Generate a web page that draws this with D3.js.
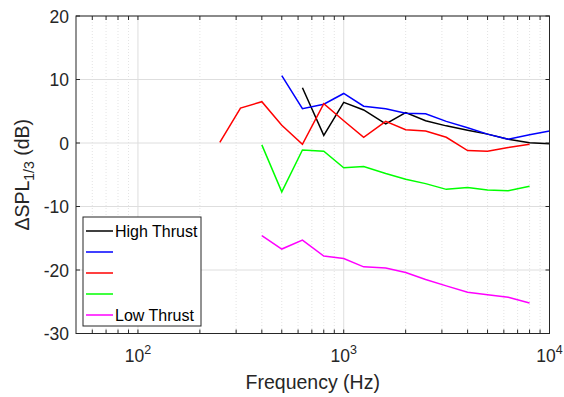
<!DOCTYPE html>
<html lang="en">
<head>
    <meta charset="UTF-8">
    <script src="https://d3js.org/d3.v7.min.js"></script>
    <title>Delta SPL 1/3 octave</title>
    <style>
        body { margin: 0; background: #fff; }
        svg text { font-family: "Liberation Sans", Arial, Helvetica, sans-serif; fill: #262626; }
    </style>
</head>
<body>
    <div id="graph-div"></div>
    <script>
        // 1/3 octave band centre frequencies (Hz)
        const freqs = [250, 315, 400, 500, 630, 800, 1000, 1250, 1600, 2000, 2500, 3150, 4000, 5000, 6300, 8000, 10000];

        // delta SPL per band, null where there is no value
        const black   = [null, null, null, null, 8.7, 1.2, 6.4, 5.2, 3.0, 4.8, 3.5, 2.7, 2.0, 1.4, 0.6, 0.05, -0.1];
        const blue    = [null, null, null, 10.6, 5.4, 6.1, 7.8, 5.8, 5.4, 4.7, 4.6, 3.4, 2.4, 1.4, 0.6, 1.3, 1.9];
        const red     = [0.1, 5.5, 6.5, 2.8, -0.2, 6.2, 3.5, 0.9, 3.4, 2.1, 1.9, 0.9, -1.2, -1.3, -0.7, -0.2, null];
        const green   = [null, null, -0.3, -7.7, -1.1, -1.3, -3.9, -3.7, -4.8, -5.7, -6.4, -7.3, -7.0, -7.4, -7.5, -6.8, null];
        const magenta = [null, null, -14.6, -16.7, -15.3, -17.8, -18.2, -19.5, -19.7, -20.4, -21.5, -22.5, -23.5, -23.9, -24.3, -25.2, null];

        const seriesNames = ['High Thrust', '', '', '', 'Low Thrust'];
        const seriesColors = ['#000000', '#0000ff', '#ff0000', '#00ff00', '#ff00ff'];
        const seriesValues = [black, blue, red, green, magenta];

        const yTicks = [20, 10, 0, -10, -20, -30];
        const xMajor = [100, 1000, 10000];
        const xMinor = [60, 70, 80, 90, 200, 300, 400, 500, 600, 700, 800, 900,
                        2000, 3000, 4000, 5000, 6000, 7000, 8000, 9000];

        const w = 564;
        const h = 397;
        const padL = 76, padR = 549.5, padT = 16, padB = 333.5;
        const tick = 4;

        const xScale = d3.scaleLog().domain([50, 10000]).range([padL, padR]);
        const yScale = d3.scaleLinear().domain([-30, 20]).range([padB, padT]);

        const svg = d3.select('#graph-div').append('svg')
            .attr('width', w)
            .attr('height', h);

        // grid
        const grid = svg.append('g');
        grid.selectAll('.minor')
            .data(xMinor).enter().append('line')
            .attr('x1', d => xScale(d)).attr('x2', d => xScale(d))
            .attr('y1', padT).attr('y2', padB)
            .attr('stroke', '#dcdcdc').attr('stroke-width', 0.8)
            .attr('stroke-dasharray', '1,2');
        grid.selectAll('.xmaj')
            .data(xMajor).enter().append('line')
            .attr('x1', d => xScale(d)).attr('x2', d => xScale(d))
            .attr('y1', padT).attr('y2', padB)
            .attr('stroke', '#dedede').attr('stroke-width', 1);
        grid.selectAll('.ymaj')
            .data(yTicks).enter().append('line')
            .attr('x1', padL).attr('x2', padR)
            .attr('y1', d => yScale(d)).attr('y2', d => yScale(d))
            .attr('stroke', '#dedede').attr('stroke-width', 1);

        // lines
        const line = d3.line()
            .defined(d => d[1] !== null)
            .x(d => xScale(d[0]))
            .y(d => yScale(d[1]));

        seriesValues.forEach((vals, i) => {
            const pts = freqs.map((f, j) => [f, vals[j]]);
            svg.append('path')
                .datum(pts)
                .attr('d', line)
                .attr('fill', 'none')
                .attr('stroke', seriesColors[i])
                .attr('stroke-width', 1.5);
        });

        // box and ticks
        const ax = svg.append('g').attr('stroke', '#262626').attr('stroke-width', 1);
        ax.append('rect')
            .attr('x', padL).attr('y', padT)
            .attr('width', padR - padL).attr('height', padB - padT)
            .attr('fill', 'none');
        const allX = xMajor.concat(xMinor);
        ax.selectAll('.xtb')
            .data(allX).enter().append('line')
            .attr('x1', d => xScale(d)).attr('x2', d => xScale(d))
            .attr('y1', padB).attr('y2', padB - tick);
        ax.selectAll('.xtt')
            .data(allX).enter().append('line')
            .attr('x1', d => xScale(d)).attr('x2', d => xScale(d))
            .attr('y1', padT).attr('y2', padT + tick);
        ax.selectAll('.ytl')
            .data(yTicks).enter().append('line')
            .attr('x1', padL).attr('x2', padL + tick)
            .attr('y1', d => yScale(d)).attr('y2', d => yScale(d));
        ax.selectAll('.ytr')
            .data(yTicks).enter().append('line')
            .attr('x1', padR).attr('x2', padR - tick)
            .attr('y1', d => yScale(d)).attr('y2', d => yScale(d));

        // tick labels
        svg.selectAll('.ylab')
            .data(yTicks).enter().append('text')
            .attr('x', padL - 7)
            .attr('y', d => yScale(d) + 6.5)
            .attr('text-anchor', 'end')
            .style('font-size', '17.5px')
            .text(d => d);

        const xl = svg.selectAll('.xlab')
            .data(xMajor).enter().append('text')
            .attr('x', d => xScale(d))
            .attr('y', padB + 28)
            .attr('text-anchor', 'middle')
            .style('font-size', '17.5px');
        xl.append('tspan').text('10');
        xl.append('tspan')
            .attr('dy', -8)
            .style('font-size', '12.5px')
            .text(d => Math.round(Math.log10(d)));

        // axis labels
        svg.append('text')
            .attr('x', (padL + padR) / 2)
            .attr('y', 389)
            .attr('text-anchor', 'middle')
            .style('font-size', '19.5px')
            .text('Frequency (Hz)');

        const yl = svg.append('text')
            .attr('transform', 'translate(29,' + ((padT + padB) / 2) + ') rotate(-90)')
            .attr('text-anchor', 'middle')
            .style('font-size', '19.5px');
        yl.append('tspan').text('\u0394SPL');
        yl.append('tspan').attr('dy', 5).style('font-size', '14px').text('1/3');
        yl.append('tspan').attr('dy', -5).text(' (dB)');

        // legend
        const legend = svg.append('g').attr('id', 'legend');
        legend.append('rect')
            .attr('x', 83).attr('y', 217)
            .attr('width', 118).attr('height', 109)
            .attr('fill', '#fff')
            .attr('stroke', '#262626').attr('stroke-width', 1);
        legend.selectAll('line')
            .data(seriesNames).enter().append('line')
            .attr('x1', 86).attr('x2', 113)
            .attr('y1', (d, i) => 231 + i * 21)
            .attr('y2', (d, i) => 231 + i * 21)
            .attr('stroke', (d, i) => seriesColors[i])
            .attr('stroke-width', 1.5);
        legend.selectAll('text')
            .data(seriesNames).enter().append('text')
            .attr('x', 115)
            .attr('y', (d, i) => 236.5 + i * 21)
            .style('font-size', '16px')
            .style('fill', '#000')
            .text(d => d);
    </script>
</body>
</html>
